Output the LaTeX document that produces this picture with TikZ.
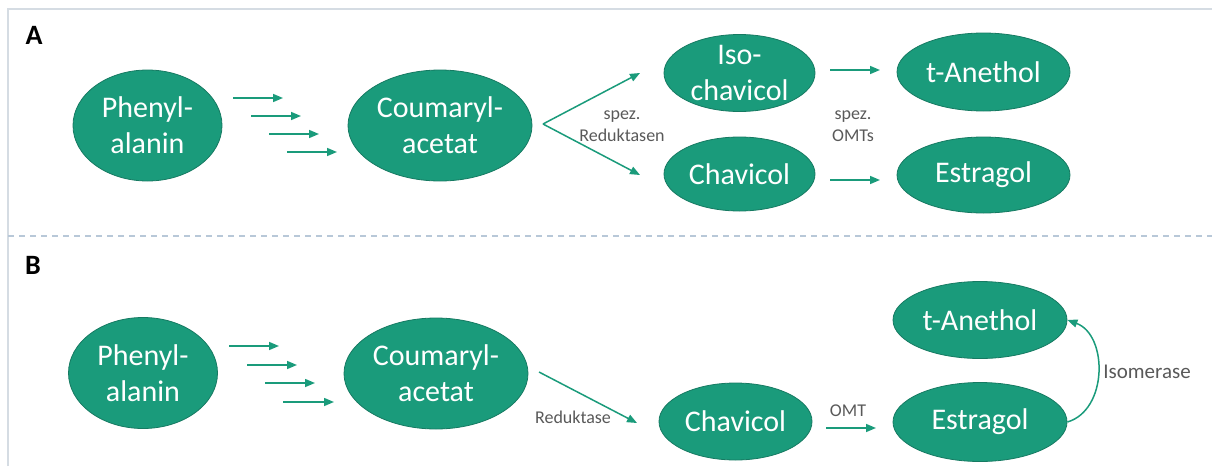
\documentclass[tikz,border=0pt]{standalone}
\usepackage{fontspec}
\setmainfont{Carlito}
\usetikzlibrary{arrows.meta,shapes.geometric}
\definecolor{grn}{HTML}{1A9B7B}
\definecolor{grnd}{HTML}{167A62}
\definecolor{frm}{HTML}{D5DCE3}
\definecolor{dsh}{HTML}{B8C8D8}
\definecolor{lbl}{HTML}{595959}
\tikzset{
  mol/.style 2 args={ellipse, fill=grn, draw=grnd, line width=0.8pt,
    minimum width=#1pt, minimum height=#2pt, inner sep=0pt},
  moltxt/.style={text=white, font=\fontsize{30}{36}\selectfont, align=center, inner sep=0pt},
  arr/.style={draw=grn, line width=1.5pt, -{Triangle[length=10pt,width=8pt]}},
  lab/.style={text=lbl, font=\fontsize{18}{21.6}\selectfont, align=center, inner sep=0pt},
  biglab/.style={text=lbl, font=\fontsize{21}{25}\selectfont, inner sep=0pt},
  panel/.style={text=black, font=\fontsize{28}{32}\selectfont\bfseries, inner sep=0pt}
}
\begin{document}
\begin{tikzpicture}[x=1pt,y=-1pt]
\useasboundingbox (0,0) rectangle (1212,466);
% frame
\coordinate (f1) at (8,466);
\coordinate (f2) at (8,9);
\coordinate (f3) at (1212,9);
\coordinate (d1) at (8,236);
\coordinate (d2) at (1212,236);
\draw[frm, line width=2pt] (f1) -- (f2) -- (f3);
\draw[dsh, line width=1.5pt, dash pattern=on 6pt off 5pt] (d1) -- (d2);

\node[panel] (pA) at (34,35) {A};
\node[panel] (pB) at (33,265) {B};

% ---------- Panel A ----------
\node[mol={149}{111}, label={[moltxt]center:Phenyl-\\alanin}] (phA) at (147.5,125.5) {};
\node[mol={184}{111}, label={[moltxt]center:Coumaryl-\\acetat}] (coA) at (440,125.5) {};
\node[mol={151}{77}, label={[moltxt]center:Iso-\\chavicol}] (isA) at (739.5,73) {};
\node[mol={151}{74}, label={[moltxt]center:Chavicol}] (chA) at (739.5,174) {};
\node[mol={173}{78}, label={[moltxt]center:t-Anethol}] (taA) at (983.5,72) {};
\node[mol={173}{76}, label={[moltxt]center:Estragol}] (esA) at (983.5,175) {};

\coordinate (a1s) at (233,98);  \coordinate (a1e) at (283,98);
\coordinate (a2s) at (251,116); \coordinate (a2e) at (301,116);
\coordinate (a3s) at (269,134); \coordinate (a3e) at (319,134);
\coordinate (a4s) at (287,152); \coordinate (a4e) at (337,152);
\draw[arr] (a1s) -- (a1e);
\draw[arr] (a2s) -- (a2e);
\draw[arr] (a3s) -- (a3e);
\draw[arr] (a4s) -- (a4e);

\coordinate (brA) at (543,124);
\coordinate (brA1) at (640,73);
\coordinate (brA2) at (640,175);
\draw[arr] (brA) -- (brA1);
\draw[arr] (brA) -- (brA2);
\node[lab] (redA) at (622,126) {spez.\\Reduktasen};

\coordinate (o1s) at (830,70);  \coordinate (o1e) at (880,70);
\coordinate (o2s) at (830,180); \coordinate (o2e) at (880,180);
\draw[arr] (o1s) -- (o1e);
\draw[arr] (o2s) -- (o2e);
\node[lab] (omtA) at (853,126) {spez.\\OMTs};

% ---------- Panel B ----------
\node[mol={149}{111}, label={[moltxt]center:Phenyl-\\alanin}] (phB) at (143,373) {};
\node[mol={184}{111}, label={[moltxt]center:Coumaryl-\\acetat}] (coB) at (436,373.5) {};
\node[mol={153}{77}, label={[moltxt]center:Chavicol}] (chB) at (735.5,421.5) {};
\node[mol={174}{79}, label={[moltxt]center:Estragol}] (esB) at (980,422) {};
\node[mol={174}{77}, label={[moltxt]center:t-Anethol}] (taB) at (980,320) {};

\coordinate (b1s) at (229,346); \coordinate (b1e) at (279,346);
\coordinate (b2s) at (247,365); \coordinate (b2e) at (297,365);
\coordinate (b3s) at (265,383); \coordinate (b3e) at (315,383);
\coordinate (b4s) at (283,402); \coordinate (b4e) at (334,402);
\draw[arr] (b1s) -- (b1e);
\draw[arr] (b2s) -- (b2e);
\draw[arr] (b3s) -- (b3e);
\draw[arr] (b4s) -- (b4e);

\coordinate (rs) at (539,372);
\coordinate (re) at (637,423);
\draw[arr] (rs) -- (re);
\node[lab] (redB) at (573,417) {Reduktase};

\coordinate (ms) at (826,428);
\coordinate (me) at (876,428);
\draw[arr] (ms) -- (me);
\node[lab] (omtB) at (848,411) {OMT};

\draw[arr] (esB.east) .. controls (1108,410) and (1108,335) .. (taB.east);
\node[biglab] (iso) at (1147,372) {Isomerase};
\end{tikzpicture}
\end{document}
